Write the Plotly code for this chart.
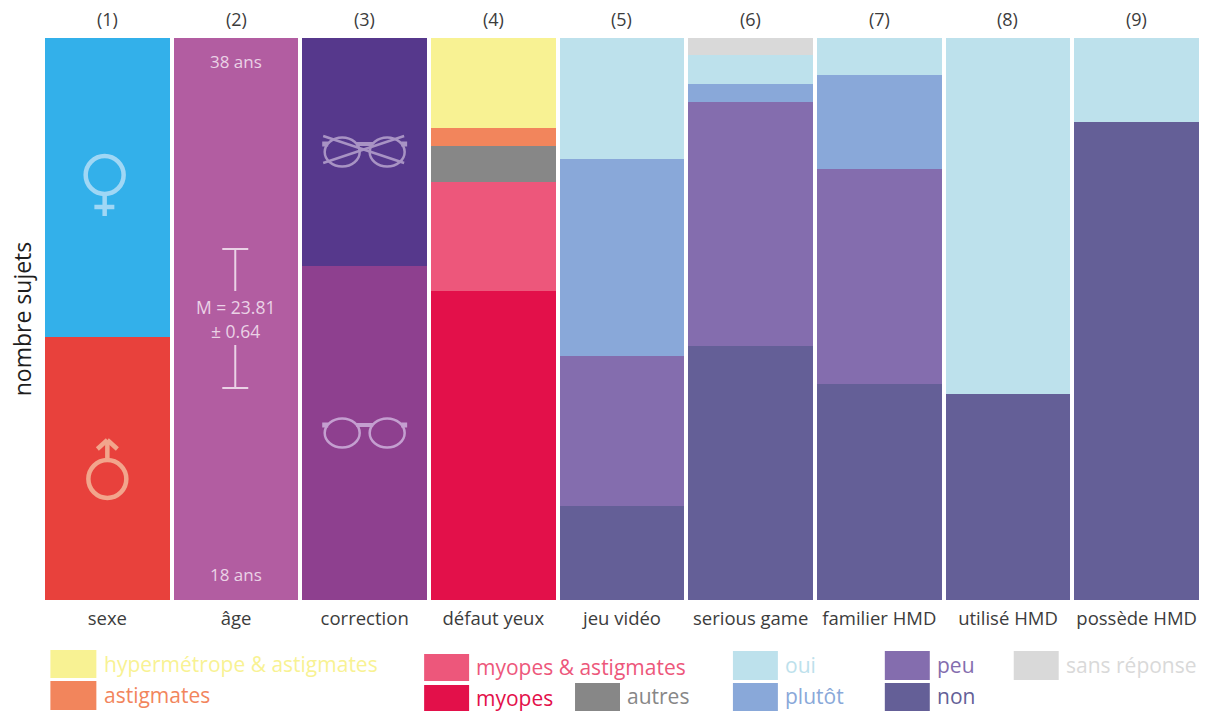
import plotly.graph_objects as go

W, H = 1206, 711
L, R, T, B = 42.6, 1201.4, 38, 600

categories = ["sexe", "âge", "correction", "défaut yeux", "jeu vidéo",
              "serious game", "familier HMD", "utilisé HMD", "possède HMD"]
column_numbers = ["(1)", "(2)", "(3)", "(4)", "(5)", "(6)", "(7)", "(8)", "(9)"]

homme = [15, None, None, None, None, None, None, None, None]
femme = [17, None, None, None, None, None, None, None, None]
age = [None, 32, None, None, None, None, None, None, None]
avec_correction = [None, None, 19, None, None, None, None, None, None]
sans_correction = [None, None, 13, None, None, None, None, None, None]
myopes = [None, None, None, 17.6, None, None, None, None, None]
myopes_astigmates = [None, None, None, 6.2, None, None, None, None, None]
autres = [None, None, None, 2.05, None, None, None, None, None]
astigmates = [None, None, None, 1.03, None, None, None, None, None]
hypermetrope_astigmates = [None, None, None, 5.12, None, None, None, None, None]
non = [None, None, None, None, 5.35, 14.46, 12.3, 11.73, 27.2]
peu = [None, None, None, None, 8.54, 13.9, 12.25, None, None]
plutot = [None, None, None, None, 11.2, 1.03, 5.35, None, None]
oui = [None, None, None, None, 6.91, 1.65, 2.1, 20.27, 4.8]
sans_reponse = [None, None, None, None, None, 0.96, None, None, None]

series = [
    ("homme", homme, "#E8413C"), ("femme", femme, "#33B0EA"), ("âge", age, "#B25DA1"),
    ("correction", avec_correction, "#8E408F"), ("sans correction", sans_correction, "#56388C"),
    ("myopes", myopes, "#E3104A"), ("myopes & astigmates", myopes_astigmates, "#ED577B"),
    ("autres", autres, "#878787"), ("astigmates", astigmates, "#F2855C"),
    ("hypermétrope & astigmates", hypermetrope_astigmates, "#F8F293"),
    ("non", non, "#645F97"), ("peu", peu, "#846DAE"), ("plutôt", plutot, "#89A8D9"),
    ("oui", oui, "#BDE1EC"), ("sans réponse", sans_reponse, "#D9D9D9"),
]

FONT = "Open Sans"
fig = go.Figure()
for name, vals, col in series:
    fig.add_bar(x=categories, y=vals, name=name, marker=dict(color=col, line=dict(width=0)),
                width=0.967, showlegend=False)


def px(x):
    return (x - L) / (R - L)


def py(y):
    return (B - y) / (B - T)


shapes = []


def line(x0, y0, x1, y1, col, w=2):
    shapes.append(dict(type="line", xref="paper", yref="paper", x0=px(x0), y0=py(y0), x1=px(x1), y1=py(y1),
                       line=dict(color=col, width=w), layer="above"))


def oval(cx, cy, rx, ry, col, w):
    shapes.append(dict(type="circle", xref="paper", yref="paper", x0=px(cx - rx), x1=px(cx + rx),
                       y0=py(cy + ry), y1=py(cy - ry), line=dict(color=col, width=w), layer="above"))


def swatch(x0, y0, x1, y1, col):
    shapes.append(dict(type="rect", xref="paper", yref="paper", x0=px(x0), x1=px(x1), y0=py(y1), y1=py(y0),
                       fillcolor=col, line=dict(width=0), layer="above"))


annotations = []


def text(x, y, s, col, size, anchor="center", **kw):
    annotations.append(dict(x=px(x), y=py(y), xref="paper", yref="paper", text=s, showarrow=False,
                            xanchor=anchor, yanchor="middle", font=dict(family=FONT, size=size, color=col), **kw))


# column numbers on top
for i, n in enumerate(column_numbers):
    text(107 + i * 128.75, 19, n, "#3C3C3C", 18)

# gender symbols
c = "#A0D7F5"
oval(104.3, 175, 19, 19, c, 4.5)
line(104.3, 194, 104.3, 216, c, 4.5)
line(94, 207, 114, 207, c, 4.5)
c = "#F2A58C"
oval(107, 479, 19, 19, c, 4.5)
line(107, 460, 107, 441, c, 4.5)
line(97, 449, 107, 440, c, 4.5)
line(117, 449, 107, 440, c, 4.5)

# age annotations
c = "#EAD2E6"
text(236, 61, "38 ans", c, 17)
text(236, 574, "18 ans", c, 17)
text(235, 307, "M = 23.81", c, 17.5)
text(235, 331, "± 0.64", c, 17.5)
line(222, 249, 248, 249, c, 2)
line(235, 249, 235, 291, c, 2)
line(222, 388, 248, 388, c, 2)
line(235, 345, 235, 388, c, 2)


# glasses
def glasses(cy, col):
    oval(342, cy, 17.5, 14.5, col, 2.5)
    oval(387, cy, 17.5, 14.5, col, 2.5)
    line(356, cy - 8, 373, cy - 8, col, 4)
    line(322, cy - 8, 328, cy - 8, col, 5)
    line(401, cy - 8, 407, cy - 8, col, 5)


c = "#A893C4"
glasses(152, c)
line(323, 136, 404, 163, c, 2.5)
line(323, 163, 404, 136, c, 2.5)
glasses(433, "#C49FD0")

# legend
legend_items = [
    (50, 650, 96, 678, "#F8F293", 102, 664, "hypermétrope &amp; astigmates"),
    (50, 681, 96, 710, "#F2855C", 102, 695, "astigmates"),
    (424, 654, 469, 681, "#ED577B", 474, 667, "myopes &amp; astigmates"),
    (424, 685, 469, 711, "#E3104A", 474, 698, "myopes"),
    (575, 683, 620, 711, "#878787", 625, 696, "autres"),
    (733, 651, 778, 680, "#BDE1EC", 783, 665, "oui"),
    (733, 683, 778, 711, "#89A8D9", 783, 696, "plutôt"),
    (885, 651, 930, 680, "#846DAE", 935, 665, "peu"),
    (885, 683, 930, 711, "#645F97", 935, 696, "non"),
    (1014, 651, 1059, 680, "#D9D9D9", 1064, 665, "sans réponse"),
]
for x0, y0, x1, y1, col, tx, ty, s in legend_items:
    swatch(x0, y0, x1, y1, col)
    text(tx, ty, s, col, 21, anchor="left")

fig.update_layout(
    barmode="stack", width=W, height=H, autosize=False,
    margin=dict(l=L, r=W - R, t=T, b=H - B, pad=0),
    paper_bgcolor="white", plot_bgcolor="white",
    shapes=shapes, annotations=annotations,
    xaxis=dict(type="category", categoryorder="array", categoryarray=categories, range=[-0.5, 8.5],
               showgrid=False, zeroline=False, showline=False, ticks="", ticklen=0, ticklabelstandoff=5,
               tickfont=dict(family=FONT, size=18.5, color="#3C3C3C")),
    yaxis=dict(range=[0, 32], showgrid=False, zeroline=False, showline=False, showticklabels=False, ticks="",
               title=dict(text="nombre sujets", standoff=3, font=dict(family=FONT, size=23, color="#1E1E1E"))),
)
fig.write_html("out.html", config={"displayModeBar": False},
               post_script="document.body.style.margin='0';document.documentElement.style.overflow='hidden';")
